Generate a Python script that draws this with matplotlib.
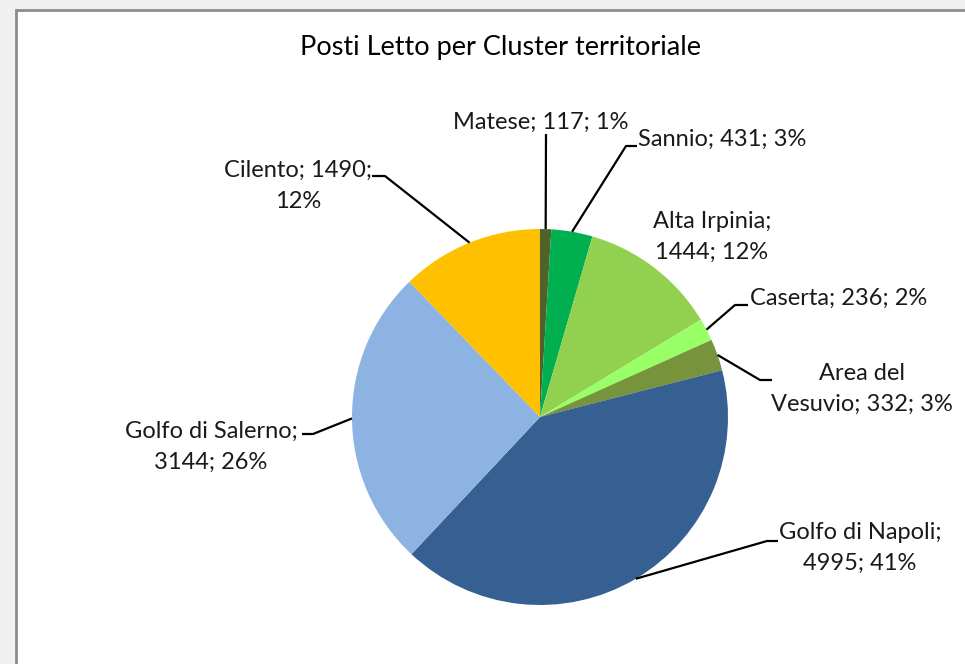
import numpy as np
import matplotlib.pyplot as plt
from matplotlib.patches import Rectangle

# Data
clusters = ['Matese', 'Sannio', 'Alta Irpinia', 'Caserta', 'Area del Vesuvio',
            'Golfo di Napoli', 'Golfo di Salerno', 'Cilento']
posti_letto = [117, 431, 1444, 236, 332, 4995, 3144, 1490]
percentuali = [1, 3, 12, 2, 3, 41, 26, 12]
colori = ['#4f6228', '#00b050', '#92d050', '#99ff66', '#77933c',
          '#376092', '#8db3e2', '#ffc000']

# Layout (pixel coordinates, y down): label pos, alignment, line break, leader bends
label_pos = [(541, 122), (638, 139), (712, 237), (750, 298),
             (862, 389), (860, 548), (211, 447), (298, 186)]
label_ha = ['center', 'left', 'center', 'left', 'center', 'center', 'center', 'center']
label_break = [None, None, 'Irpinia; ', None, 'Area del ', 'Napoli; ', 'Salerno; ', '1490; ']
leaders = [[(546, 134)],
           [(626, 146), (637, 146)],
           None,
           [(735, 305), (748, 305)],
           [(760, 380), (772, 380)],
           [(767, 541), (778, 541)],
           [(313, 434), (302, 434)],
           [(385, 176), (372, 176)]]

W, H = 965, 664
CX, CY, R = 540, 417, 188

plt.rcParams['font.family'] = ['Lato', 'DejaVu Sans']

fig = plt.figure(figsize=(W / 100, H / 100), dpi=100, facecolor='#f0f0f0')

# white chart area with grey frame
fig.patches.append(Rectangle((16 / W, -0.05), 1.1, (H - 10) / H + 0.05,
                             transform=fig.transFigure, facecolor='white',
                             edgecolor='#8c8c8c', linewidth=2, zorder=-5))

ax = fig.add_axes([0, 0, 1, 1])
ax.patch.set_alpha(0)

# y axis inverted -> startangle=-90 + counterclock gives clockwise from 12 o'clock on screen
wedges, _ = ax.pie(posti_letto, colors=colori, startangle=-90, counterclock=True,
                   center=(CX, CY), radius=R, wedgeprops=dict(linewidth=0))

ax.set_xlim(0, W)
ax.set_ylim(H, 0)
ax.set_aspect('auto')
ax.axis('off')

for i, w in enumerate(wedges):
    text = f"{clusters[i]}; {posti_letto[i]}; {percentuali[i]}%"
    if label_break[i]:
        text = text.replace(label_break[i], label_break[i].rstrip() + '\n', 1)
    ax.text(label_pos[i][0], label_pos[i][1], text, ha=label_ha[i], va='center',
            fontsize=17, color='#1a1a1a', linespacing=1.6, multialignment='center')
    if leaders[i]:
        th = np.deg2rad((w.theta1 + w.theta2) / 2)
        pts = [(CX + R * np.cos(th), CY + R * np.sin(th))] + leaders[i]
        xs, ys = zip(*pts)
        ax.plot(xs, ys, color='black', linewidth=1.6, solid_capstyle='butt')

ax.text(500, 48, 'Posti Letto per Cluster territoriale', ha='center', va='center',
        fontsize=19.5, color='black')

fig.savefig('out.png', dpi=100, facecolor=fig.get_facecolor())
